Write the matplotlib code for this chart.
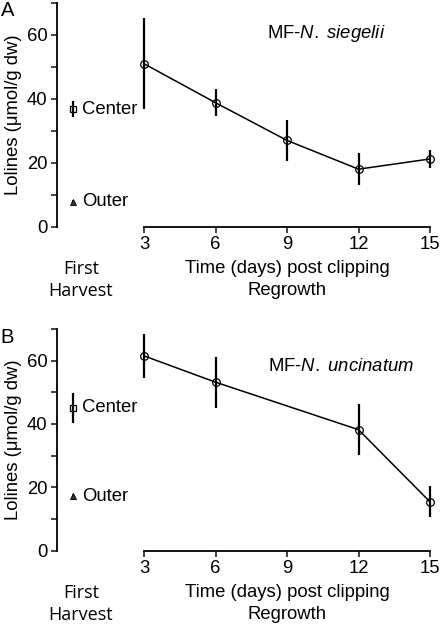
import matplotlib
matplotlib.use("Agg")
import matplotlib.pyplot as plt
import numpy as np

plt.rcParams['font.family'] = ['Liberation Sans', 'DejaVu Sans']
plt.rcParams['mathtext.fontset'] = 'custom'
plt.rcParams['mathtext.rm'] = 'Liberation Sans'
plt.rcParams['mathtext.it'] = 'Liberation Sans:italic'

days = [3, 6, 9, 12, 15]
tick_labels = ["3", "6", "9", "12", "15"]

# Panel A: MF-N. siegelii
a_days = [3, 6, 9, 12, 15]
a_mean = [51.0, 38.8, 27.0, 18.0, 21.2]
a_err = [14.2, 4.2, 6.5, 5.1, 2.9]
a_center = 36.7
a_center_err = 2.5
a_outer = 7.8
a_outer_err = 0.6

# Panel B: MF-N. uncinatum
b_days = [3, 6, 12, 15]
b_mean = [61.5, 53.2, 38.2, 15.4]
b_err = [7.0, 8.0, 8.1, 4.9]
b_center = 45.1
b_center_err = 4.8
b_outer = 17.2
b_outer_err = 0.6

FS = 13.3

fig = plt.figure(figsize=(4.42, 6.29), dpi=100)
axA = fig.add_axes([0.129, 0.6396, 0.852, 0.3556])
axB = fig.add_axes([0.129, 0.1245, 0.852, 0.3525])

def draw(ax, xs, mean, err, center, cerr, outer, oerr, title, title_xy, letter, letter_xy):
    ax.errorbar(xs, mean, yerr=err, color='black', lw=1.1, elinewidth=1.6,
                marker='o', ms=5.5, mfc='none', mec='black', mew=0.9, capsize=0)
    ax.errorbar([0], [center], yerr=[cerr], color='black', elinewidth=1.6,
                marker='s', ms=4.5, mfc='none', mec='black', mew=0.9, capsize=0)
    ax.errorbar([0], [outer], yerr=[oerr], color='black', elinewidth=1.2,
                marker='^', ms=5, mfc='#333333', mec='black', mew=0.6, capsize=0)
    ax.text(0.4, center, "Center", fontsize=FS, va='center', ha='left')
    ax.text(0.4, outer, "Outer", fontsize=FS, va='center', ha='left')
    ax.set_xlim(-0.65, 15.15)
    ax.set_ylim(0, 70)
    ax.set_yticks([0, 20, 40, 60])
    ax.set_yticks([10, 30, 50, 70], minor=True)
    ax.set_xticks(days)
    ax.set_xticklabels(tick_labels)
    ax.tick_params(axis='both', which='both', direction='out', length=4, width=1.2,
                   labelsize=FS, color='#222222')
    ax.tick_params(axis='x', pad=3)
    ax.tick_params(axis='y', pad=3)
    ax.spines['top'].set_visible(False)
    ax.spines['right'].set_visible(False)
    ax.spines['left'].set_linewidth(1.3)
    ax.spines['bottom'].set_linewidth(1.3)
    ax.spines['bottom'].set_bounds(3, 15)
    ax.set_ylabel("Lolines (μmol/g dw)", fontsize=FS, labelpad=3)
    ax.text(title_xy[0], title_xy[1], title, fontsize=FS, ha='center', va='center',
            transform=ax.transAxes)
    ax.annotate("First\nHarvest", xy=(0.35, 0), xycoords=('data', 'axes fraction'),
                xytext=(0, -24), textcoords='offset points', fontsize=FS - 0.3,
                ha='center', va='top', linespacing=1.25, family='Open Sans')
    ax.annotate("Time (days) post clipping\nRegrowth", xy=(9.0, 0),
                xycoords=('data', 'axes fraction'), xytext=(0, -24),
                textcoords='offset points', fontsize=FS, ha='center', va='top',
                linespacing=1.35)
    fig.text(letter_xy[0], letter_xy[1], letter, fontsize=14.5, ha='left', va='top')

draw(axA, a_days, a_mean, a_err, a_center, a_center_err, a_outer, a_outer_err,
     "MF-$\\it{N.\\ siegelii}$", (0.714, 0.865), "A", (0.002, 0.998))
draw(axB, b_days, b_mean, b_err, b_center, b_center_err, b_outer, b_outer_err,
     "MF-$\\it{N.\\ uncinatum}$", (0.754, 0.829), "B", (0.0, 0.478))

fig.savefig("out.png", dpi=100)
